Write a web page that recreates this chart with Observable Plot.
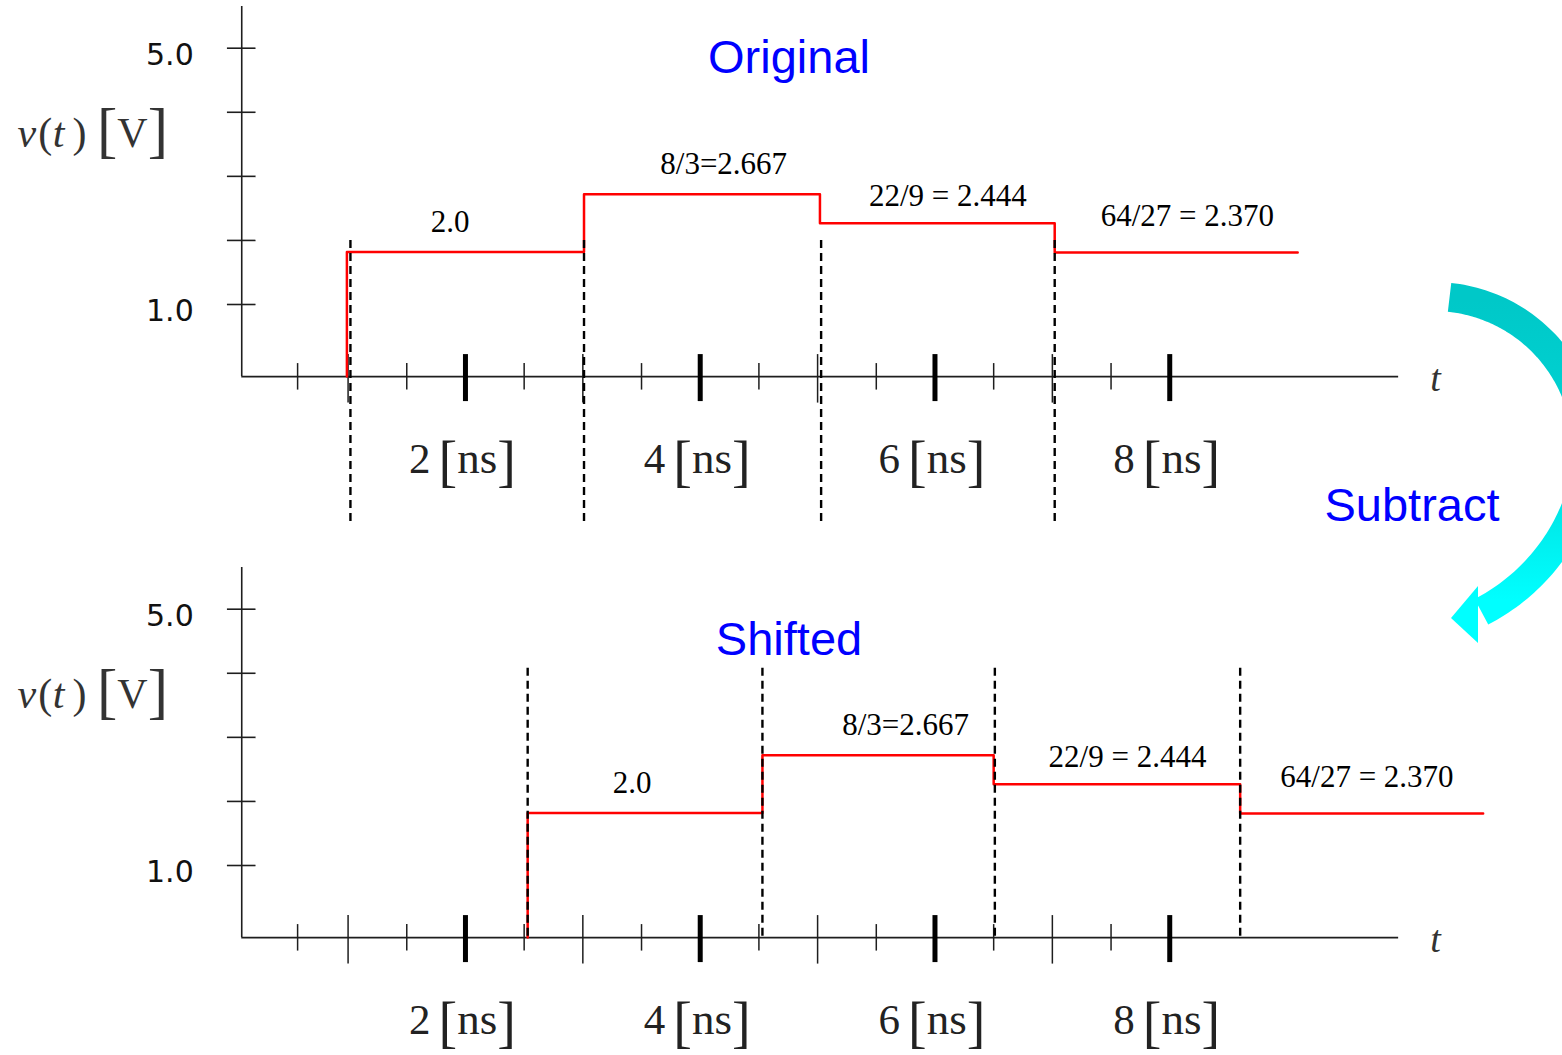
<!DOCTYPE html>
<html>
<head>
<meta charset="utf-8">
<script src="https://cdn.jsdelivr.net/npm/d3@7"></script>
<script src="https://cdn.jsdelivr.net/npm/@observablehq/plot@0.6"></script>
<style>
  html, body { margin: 0; padding: 0; background: #fff; overflow: hidden; }
  #wrap { position: relative; width: 1562px; height: 1055px; overflow: hidden; background: #fff; }
  #panelTop, #panelBottom { position: absolute; left: 0; }
  #panelTop { top: 0; z-index: 2; }
  #panelBottom { top: 561px; z-index: 1; }
  text { white-space: pre; }
</style>
</head>
<body>
<div id="wrap"><div id="panelBottom"></div><div id="panelTop"></div></div>
<script>
// ---------------- data ----------------
// level labels of the four steps and the heights at which they are drawn (schematic, in V)
const levelLabels = ["2.0", "8/3=2.667", "22/9 = 2.444", "64/27 = 2.370"];
const levelsDrawn = [1.82, 2.72, 2.27, 1.81];
// step edges in ns (start of each step, last value = end of the trace)
const originalEdges = [0.99, 3.01, 5.02, 7.02, 9.09];
const shiftedEdges  = [2.53, 4.53, 6.50, 8.60, 10.67];
// dashed marker lines (ns)
const originalDashes = [1.02, 3.01, 5.03, 7.02];
const shiftedDashes  = [2.53, 4.53, 6.51, 8.60];
// anchor of each level label (ns, V)
const originalLabelT = [1.87, 4.20, 6.11, 8.15];
const shiftedLabelT  = [3.42, 5.75, 7.64, 9.68];
const labelV = [2.13, 3.04, 2.54, 2.23];
// axes
const yTicks = [1, 2, 3, 4, 5];
const yTickLabelValues = [1, 5];
const yTickLabels = ["1.0", "5.0"];
const xMajorTicks = [2, 4, 6, 8];
const xMajorLabels = ["2 [ns]", "4 [ns]", "6 [ns]", "8 [ns]"];
const xOddTicks = [1, 3, 5, 7];
const xHalfTicks = [0.57, 1.5, 2.5, 3.5, 4.5, 5.5, 6.5, 7.5];
const titles = ["Original", "Shifted"];
const yLabel = "v(t) [V]";

// ---------------- layout ----------------
const PX_PER_NS = 117.38, X_ZERO = 230.2;
const PX_V1 = 304, PX_V5 = 47.7;
const pxPerV = (PX_V1 - PX_V5) / 4;
const vLen = px => px / pxPerV;     // pixel length -> volts
const tLen = px => px / PX_PER_NS;  // pixel length -> ns
const baseV = -0.125;   // level of the time axis
const axisT0 = 0.094;   // time of the voltage axis
const axisT1 = 9.95;    // end of the time axis
const yAxisTop = 5.65;  // top of the voltage axis
const ink = "#1e1e1e";
const serif = "Liberation Serif, Times New Roman, serif";
const sans = "Liberation Sans, Arial, sans-serif";

// curved "Subtract" arrow between the two panels (decoration, pixel space of the upper svg)
function arrowMark() {
  const g = d3.create("svg:g");
  const lg = g.append("defs").append("linearGradient")
    .attr("id", "arrowGrad").attr("gradientUnits", "userSpaceOnUse")
    .attr("x1", 0).attr("y1", 300).attr("x2", 0).attr("y2", 600);
  lg.append("stop").attr("offset", 0).attr("stop-color", "#00c8c8");
  lg.append("stop").attr("offset", 0.45).attr("stop-color", "#00d4d4");
  lg.append("stop").attr("offset", 1).attr("stop-color", "#00ffff");
  const cx = 1433.5, cy = 450, r0 = 153.5;
  const pts = d3.range(-84, 74.01, 1.5).map(a => {
    const r = r0 + (a > 20 ? 15.5 * Math.pow((a - 20) / 54, 2) : 0);
    const th = a * Math.PI / 180;
    return [cx + r * Math.cos(th), cy + r * Math.sin(th)];
  });
  g.append("path").attr("d", d3.line()(pts))
    .attr("fill", "none").attr("stroke", "url(#arrowGrad)").attr("stroke-width", 29);
  g.append("path").attr("d", "M1478,586L1451,618L1478,643Z").attr("fill", "url(#arrowGrad)");
  return g.node();
}

function rich(svg, match, build) {
  svg.querySelectorAll("text").forEach(el => {
    const s = el.textContent;
    const m = s.match(match);
    if (!m) return;
    el.textContent = "";
    for (const p of build(m)) {
      const ts = document.createElementNS("http://www.w3.org/2000/svg", "tspan");
      ts.textContent = p.t;
      if (p.size) ts.setAttribute("font-size", p.size);
      if (p.italic) ts.setAttribute("font-style", "italic");
      if (p.dx) ts.setAttribute("dx", p.dx);
      if (p.dy) ts.setAttribute("dy", p.dy);
      el.appendChild(ts);
    }
  });
}

function panel(o) {
  const steps = [{t: o.edges[0], v: baseV}]
    .concat(levelsDrawn.map((v, i) => ({t: o.edges[i], v})))
    .concat([{t: o.edges[4], v: levelsDrawn[3]}]);
  const labels = levelLabels.map((s, i) => ({s, t: o.labelT[i], v: labelV[i]}));
  const marks = [
    Plot.ruleX([axisT0], {x: d => d, y1: () => baseV, y2: () => yAxisTop, stroke: ink, strokeWidth: 1.6}),
    Plot.ruleY([baseV], {y: d => d, x1: () => axisT0, x2: () => axisT1, stroke: ink, strokeWidth: 1.6}),
    Plot.ruleY(yTicks, {y: d => d, x1: () => axisT0 - tLen(14.3), x2: () => axisT0 + tLen(14.3), stroke: ink, strokeWidth: 1.6}),
    Plot.ruleX(xHalfTicks, {x: d => d, y1: () => baseV + vLen(13), y2: () => baseV - vLen(13.5), stroke: ink, strokeWidth: 1.5}),
    Plot.ruleX(xOddTicks, {x: d => d, y1: () => baseV + vLen(22), y2: () => baseV - vLen(26.5), stroke: ink, strokeWidth: 1.5}),
    Plot.ruleX(xMajorTicks, {x: d => d, y1: () => baseV + vLen(22), y2: () => baseV - vLen(25), stroke: "#000", strokeWidth: 5}),
    Plot.line(steps, {x: "t", y: "v", curve: "step-after", stroke: "#ff0000", strokeWidth: 2.5}),
    Plot.ruleX(o.dashes, {x: d => d, y1: () => o.dashTop, y2: () => o.dashBottom, stroke: "#000", strokeWidth: 2.4, strokeDasharray: "8,5"}),
    Plot.text(labels, {x: "t", y: "v", text: "s", fontFamily: serif, fontSize: 31, textAnchor: "middle", lineAnchor: "bottom", fill: "#000"}),
    Plot.text(yTickLabelValues, {x: () => axisT0, y: d => d, text: (d, i) => yTickLabels[i], dx: -48, dy: 16.6,
      fontFamily: "DejaVu Sans, sans-serif", fontSize: 30, textAnchor: "end", lineAnchor: "bottom", fill: "#111"}),
    Plot.text(xMajorTicks, {x: d => d, y: () => baseV, text: (d, i) => xMajorLabels[i], dx: -3, dy: 96,
      fontFamily: serif, fontSize: 43, textAnchor: "middle", lineAnchor: "bottom", fill: "#222"}),
    Plot.text(["t"], {x: () => axisT1, y: () => baseV, dx: 37, dy: 14, fontFamily: serif, fontStyle: "italic",
      fontSize: 38, textAnchor: "middle", lineAnchor: "bottom", fill: "#333"}),
    Plot.text([yLabel], {frameAnchor: "top-left", dx: 17, dy: 146.7, fontFamily: serif, fontSize: 42,
      textAnchor: "start", lineAnchor: "bottom", fill: "#333"}),
    Plot.text([o.title], {frameAnchor: "top-left", dx: 788.5, dy: o.titleY, fontFamily: sans, fontSize: 47,
      textAnchor: "middle", lineAnchor: "bottom", fill: "#0000ff"})
  ];
  if (o.extra) marks.push(...o.extra);
  const svg = Plot.plot({
    width: 1562, height: o.height, margin: 0,
    x: {domain: [0, 10], range: [X_ZERO, X_ZERO + 10 * PX_PER_NS], axis: null},
    y: {domain: [1, 5], range: [PX_V1, PX_V5], axis: null},
    style: {background: "transparent", overflow: "visible"},
    marks
  });
  // typeset "2 [ns]" and "v(t) [V]" with taller brackets and italic variables
  rich(svg, /^(\d) \[ns\]$/, m => [
    {t: m[1], size: 43},
    {t: "[", size: 56, dy: 7, dx: 8},
    {t: "ns", size: 45, dy: -7},
    {t: "]", size: 56, dy: 7}
  ]);
  rich(svg, /^v\(t\) \[V\]$/, () => [
    {t: "v", italic: true},
    {t: "(", dx: 2.2},
    {t: "t", italic: true, dx: 0.5},
    {t: ")", dx: 8},
    {t: "[", size: 61, dy: 3.7, dx: 10.5},
    {t: "V", size: 42, dy: -3.7},
    {t: "]", size: 61, dy: 3.7}
  ]);
  return svg;
}

const originalPlot = panel({
  edges: originalEdges, dashes: originalDashes, dashTop: 2.0, dashBottom: -2.40,
  labelT: originalLabelT, title: titles[0], titleY: 72, height: 561,
  extra: [
    Plot.text(["Subtract"], {frameAnchor: "top-left", dx: 1411.5, dy: 520, fontFamily: sans, fontSize: 47,
      textAnchor: "middle", lineAnchor: "bottom", fill: "#0000ff"}),
    arrowMark
  ]
});
const shiftedPlot = panel({
  edges: shiftedEdges, dashes: shiftedDashes, dashTop: 4.08, dashBottom: baseV,
  labelT: shiftedLabelT, title: titles[1], titleY: 93, height: 494
});
document.getElementById("panelTop").appendChild(originalPlot);
document.getElementById("panelBottom").appendChild(shiftedPlot);
</script>
</body>
</html>
